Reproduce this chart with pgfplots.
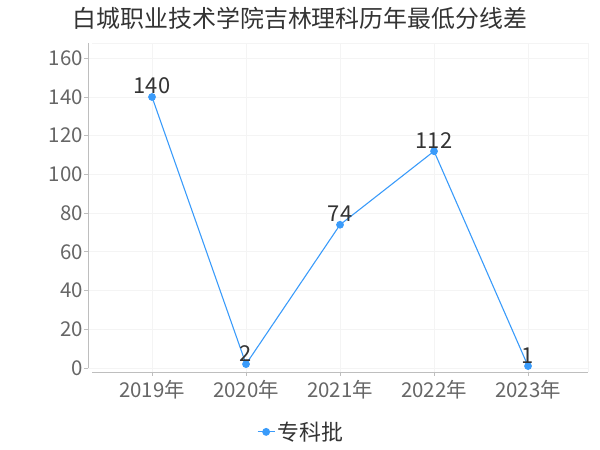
\documentclass[border=0pt]{standalone}
\usepackage{pgfplots}
\pgfplotsset{compat=1.18}
\usepackage{fontspec}
\setmainfont{Noto Sans CJK SC}
\definecolor{serie}{RGB}{58,155,250}
\definecolor{ticktxt}{RGB}{102,102,102}
\definecolor{darktxt}{RGB}{51,51,51}
\definecolor{gridc}{RGB}{244,244,244}
\definecolor{axisc}{RGB}{190,190,190}
\begin{document}
\begin{tikzpicture}[x=1bp,y=1bp]
\path[use as bounding box] (0,0) rectangle (600,450);
\node[font=\fontsize{24}{27}\selectfont, text=darktxt] at (300,432) {白城职业技术学院吉林理科历年最低分线差};
\begin{axis}[
    at={(88bp,78bp)}, anchor=south west,
    width=500bp, height=329bp, scale only axis,
    xmin=-0.681, xmax=4.638,
    ymin=-2.07, ymax=167.9,
    xtick={0,1,2,3,4},
    xticklabels={2019年,2020年,2021年,2022年,2023年},
    ytick={0,20,...,160},
    axis line style={draw=none},
    grid=major,
    major grid style={gridc, line width=0.8pt},
    tick align=outside,
    major tick length=4bp,
    tick style={axisc, line width=0.8pt},
    xtick pos=bottom, ytick pos=left,
    ticklabel style={font=\fontsize{20.5}{22}\selectfont, text=ticktxt},
    /pgf/number format/assume math mode=true,
    yticklabel style={anchor=east, inner sep=0bp, xshift=-1bp},
    xticklabel style={anchor=north, inner sep=1bp, yshift=-3bp},
    legend style={at={(0.426,-0.182)}, anchor=center, draw=none, fill=none,
        font=\fontsize{22}{24}\selectfont, text=darktxt, legend columns=1},
    legend image post style={line width=1.2pt},
    clip=false,
]
\draw[gridc, line width=0.8pt] (rel axis cs:0.008,1) -- (rel axis cs:1,1) -- (rel axis cs:1,0);
\draw[axisc, line width=0.8pt] (rel axis cs:0,1) -- (axis cs:-0.681,0);
\draw[axisc, line width=0.8pt] (rel axis cs:0.008,0) -- (rel axis cs:1,0);
\addplot[
    serie, line width=1.1pt,
    mark=*, mark size=3.3bp, mark options={fill=serie, draw=serie},
    nodes near coords,
    every node near coord/.append style={font=\fontsize{22}{24}\selectfont, text=darktxt, anchor=south, inner sep=0.5bp, yshift=2bp},
] coordinates {(0,140) (1,2) (2,74) (3,112) (4,1)};
\addlegendentry{专科批}
\end{axis}
\end{tikzpicture}
\end{document}
